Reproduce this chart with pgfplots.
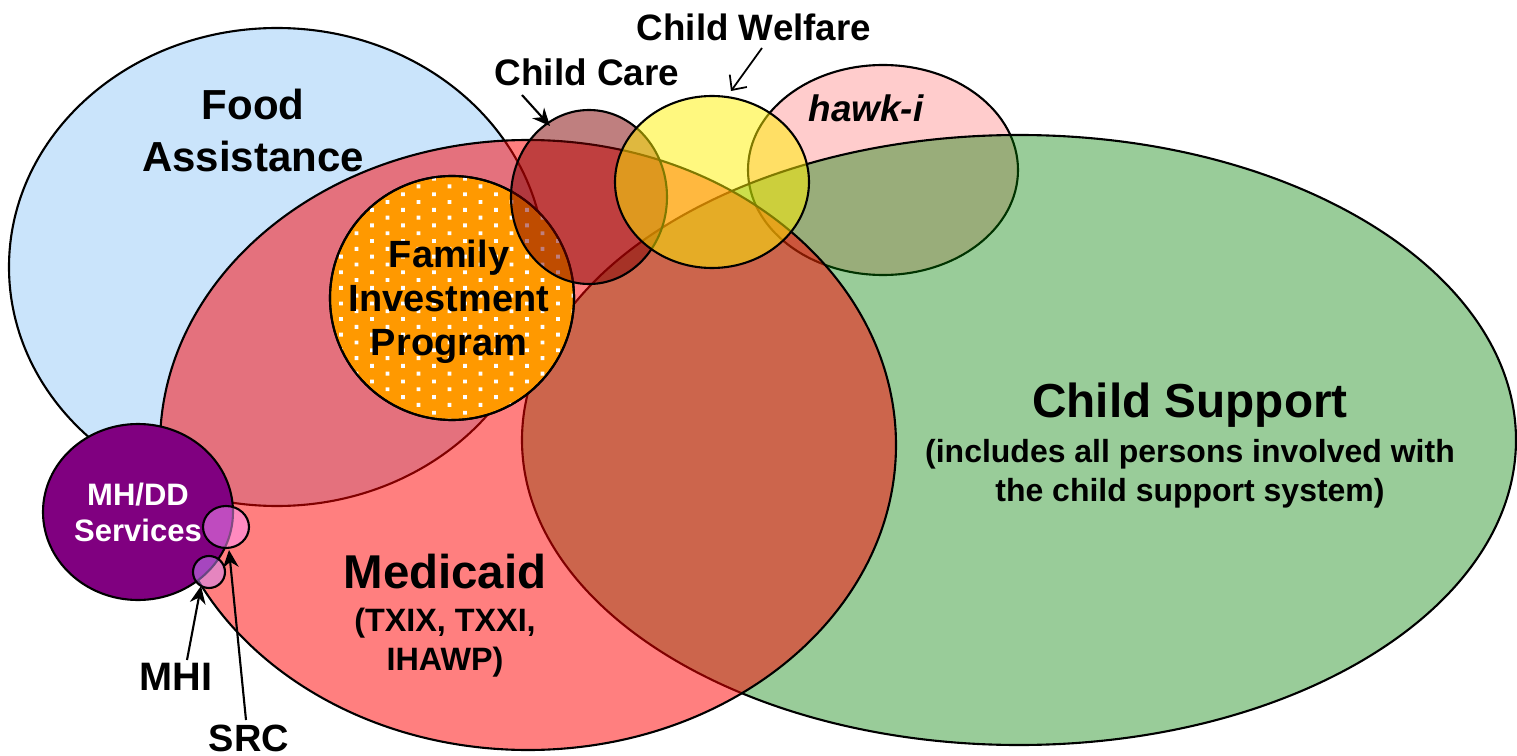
\documentclass[border=0pt]{standalone}
\usepackage{pgfplots}
\pgfplotsset{compat=1.18}
\usepackage{fontspec}
\setmainfont{Liberation Sans}
\usetikzlibrary{patterns,arrows.meta}
\definecolor{foodc}{RGB}{202,228,251}
\definecolor{hawkc}{RGB}{255,204,204}
\definecolor{csc}{RGB}{0,128,0}
\definecolor{fipc}{RGB}{255,153,0}
\definecolor{ccc}{RGB}{128,0,0}
\definecolor{mhddc}{RGB}{128,0,128}
\definecolor{srcc}{RGB}{255,150,255}
\definecolor{mhic}{RGB}{204,140,255}
\pgfdeclarepatternformonly{fipdots}{\pgfqpoint{-0.6pt}{-0.6pt}}{\pgfqpoint{5.0pt}{2.8pt}}{\pgfqpoint{8.82pt}{4.44pt}}{%
  \pgfpathrectangle{\pgfqpoint{-0.55pt}{-0.55pt}}{\pgfqpoint{1.1pt}{1.1pt}}%
  \pgfpathrectangle{\pgfqpoint{3.86pt}{1.67pt}}{\pgfqpoint{1.1pt}{1.1pt}}%
  \pgfusepath{fill}}
\begin{document}
\begin{tikzpicture}
\useasboundingbox (0,0) rectangle (15.17cm,7.56cm);
\begin{axis}[hide axis, scale only axis, width=15.17cm, height=7.56cm,
  xmin=0, xmax=1517, ymin=0, ymax=756, y dir=reverse, anchor=south west, at={(0,0)}]
% Food Assistance
\draw[line width=0.6pt, fill=foodc] (axis cs:277,267) ellipse [x radius=268, y radius=239];
% hawk-i
\draw[line width=0.6pt, fill=hawkc] (axis cs:883,170) ellipse [x radius=135, y radius=105];
% Child Support
\draw[line width=0.6pt, fill=csc, fill opacity=0.4] (axis cs:1019,440) ellipse [x radius=497, y radius=305];
% Medicaid
\draw[line width=0.6pt, fill=red, fill opacity=0.5] (axis cs:528,445) ellipse [x radius=368, y radius=305];
% Family Investment Program
\draw[line width=0.6pt, fill=fipc] (axis cs:452,298) ellipse [x radius=122, y radius=122];
\fill[pattern=fipdots, pattern color=white] (axis cs:452,298) ellipse [x radius=121, y radius=121];
\draw[line width=0.6pt] (axis cs:452,298) ellipse [x radius=122, y radius=122];
% Child Care
\draw[line width=0.6pt, fill=ccc, fill opacity=0.5] (axis cs:589,197) ellipse [x radius=78, y radius=87];
% Child Welfare
\draw[line width=0.6pt, fill=yellow, fill opacity=0.5] (axis cs:712,182) ellipse [x radius=97, y radius=86];
% MH/DD
\draw[line width=0.6pt, fill=mhddc] (axis cs:138,512) ellipse [x radius=95, y radius=88];
% SRC, MHI
\draw[line width=0.6pt, fill=srcc, fill opacity=0.5] (axis cs:226,527) ellipse [x radius=23, y radius=21];
\draw[line width=0.6pt, fill=mhic, fill opacity=0.5] (axis cs:209,572) ellipse [x radius=16, y radius=16];
% labels
\node[align=center, font=\fontsize{11.95pt}{14.8pt}\selectfont\bfseries] at (axis cs:253,130) {Food\\Assistance};
\node[font=\fontsize{10.5pt}{12pt}\selectfont\bfseries] at (axis cs:587,72) {Child Care};
\node[font=\fontsize{10.45pt}{12pt}\selectfont\bfseries] at (axis cs:754,27) {Child Welfare};
\node[font=\fontsize{10.5pt}{12pt}\selectfont\bfseries\itshape] at (axis cs:866,108) {hawk-i};
\node[align=center, font=\fontsize{10.8pt}{12.5pt}\selectfont\bfseries] at (axis cs:449,302) {Family\\Investment\\Program};
\node[font=\fontsize{13.58pt}{15pt}\selectfont\bfseries] at (axis cs:1190,405) {Child Support};
\node[align=center, font=\fontsize{9.1pt}{11.1pt}\selectfont\bfseries] at (axis cs:1190,474) {(includes all persons involved with\\the child support system)};
\node[font=\fontsize{13.5pt}{15pt}\selectfont\bfseries] at (axis cs:445,572) {Medicaid};
\node[align=center, font=\fontsize{9.2pt}{11.1pt}\selectfont\bfseries] at (axis cs:445,643) {(TXIX, TXXI,\\IHAWP)};
\node[align=center, text=white, font=\fontsize{8.82pt}{10.24pt}\selectfont\bfseries] at (axis cs:138,512) {MH/DD\\Services};
\node[font=\fontsize{11.3pt}{13pt}\selectfont\bfseries] at (axis cs:176,677) {MHI};
\node[font=\fontsize{10.8pt}{12pt}\selectfont\bfseries] at (axis cs:249,738) {SRC};
% arrows
\draw[line width=0.6pt, -{Stealth[length=5pt, width=4.5pt]}] (axis cs:522,95) -- (axis cs:550,126);
\draw[line width=0.5pt, -{Straight Barb[length=3.2pt, width=6pt]}] (axis cs:762,48) -- (axis cs:731,91);
\draw[line width=0.6pt, -{Stealth[length=5pt, width=4.5pt]}] (axis cs:187,660) -- (axis cs:201,586);
\draw[line width=0.6pt, -{Stealth[length=5pt, width=4.5pt]}] (axis cs:246,720) -- (axis cs:229,550);
\end{axis}
\end{tikzpicture}
\end{document}
